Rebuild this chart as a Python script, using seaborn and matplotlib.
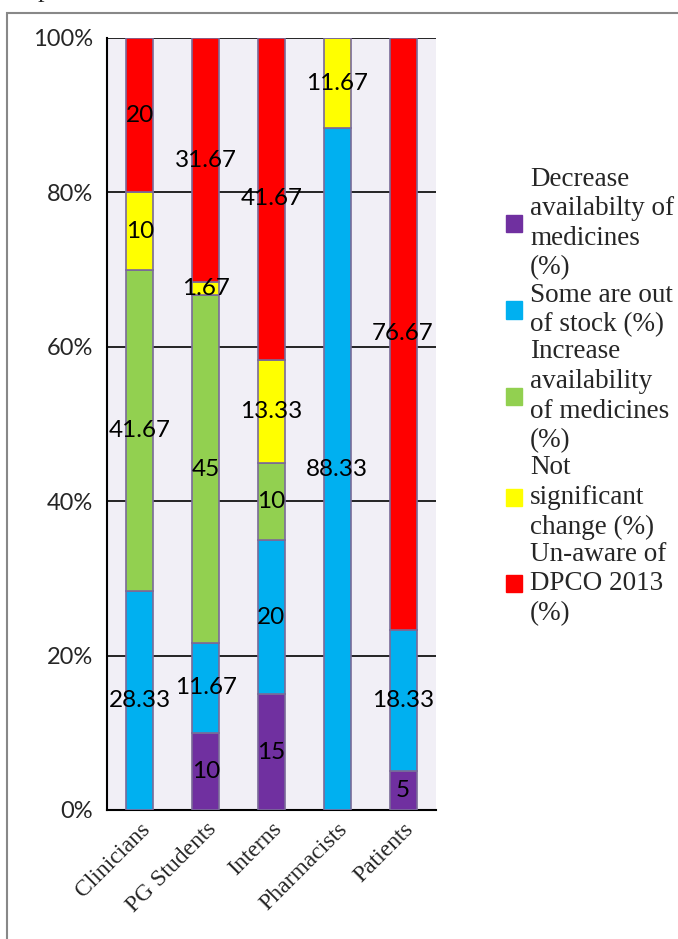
import pandas as pd
import matplotlib
matplotlib.use("Agg")
import matplotlib.pyplot as plt
import seaborn as sns
from matplotlib.patches import Patch, Rectangle
from matplotlib.ticker import PercentFormatter

# groups on the x axis
groups = ["Clinicians", "PG Students", "Interns", "Pharmacists", "Patients"]

# stacked series, bottom to top (%)
decrease = [0, 10, 15, 0, 5]
out_of_stock = [28.33, 11.67, 20, 88.33, 18.33]
increase = [41.67, 45, 10, 0, 0]
not_significant = [10, 1.67, 13.33, 11.67, 0]
unaware = [20, 31.67, 41.67, 0, 76.67]

series_names = [
    "Decrease\navailabilty of\nmedicines\n(%)",
    "Some are out\nof stock (%)",
    "Increase\navailability\nof medicines\n(%)",
    "Not\nsignificant\nchange (%)",
    "Un-aware of\nDPCO 2013\n(%)",
]
series_values = [decrease, out_of_stock, increase, not_significant, unaware]
colors = ["#7030A0", "#00B0F0", "#92D050", "#FFFF00", "#FF0000"]

sns.set_style("white")
plt.rcParams["font.family"] = ["Lato", "DejaVu Sans"]

fig = plt.figure(figsize=(6.78, 9.39), dpi=100)
ax = fig.add_axes([107 / 678, 1 - 810 / 939, (436 - 107) / 678, (810 - 38) / 939])
ax.set_facecolor("#F1EFF6")

# stacking with bottom offsets
bottom = [0] * len(groups)
for name, vals, col in zip(series_names, series_values, colors):
    df = pd.DataFrame({"group": groups, "value": vals})
    sns.barplot(data=df, x="group", y="value", order=groups, color=col,
                bottom=bottom, width=0.41, edgecolor="#7A6A98", linewidth=1.2,
                saturation=1, ax=ax, zorder=3)
    for i, v in enumerate(vals):
        if v > 0:
            ax.text(i, bottom[i] + v / 2, f"{v:g}", ha="center", va="center",
                    fontsize=17.5, color="black", zorder=5)
    bottom = [b + v for b, v in zip(bottom, vals)]

ax.set_xlim(-0.5, 4.5)
ax.set_ylim(0, 100)
ax.set_yticks([0, 20, 40, 60, 80, 100])
ax.yaxis.set_major_formatter(PercentFormatter(decimals=0))
ax.grid(axis="y", color="black", linewidth=1.2, zorder=1)
ax.set_axisbelow(True)
ax.set_xlabel("")
ax.set_ylabel("")
for s in ["top", "right"]:
    ax.spines[s].set_visible(False)
for s in ["left", "bottom"]:
    ax.spines[s].set_color("black")
    ax.spines[s].set_linewidth(1.5)
ax.tick_params(axis="y", length=0, pad=10, labelsize=17)
ax.tick_params(axis="x", length=0, pad=6)
for lab in ax.get_xticklabels():
    lab.set_rotation(45)
    lab.set_ha("right")
    lab.set_rotation_mode("anchor")
    lab.set_fontfamily(["Liberation Serif"])
    lab.set_fontsize(17)

# legend on the right
handles = [Patch(facecolor=c, edgecolor=c) for c in colors]
leg = fig.legend(handles, series_names, loc="upper left",
                 bbox_to_anchor=(495 / 678, 1 - 156 / 939), frameon=False,
                 prop={"family": "Liberation Serif", "size": 19.5},
                 handlelength=0.6, handleheight=0.6, handletextpad=0.3,
                 labelspacing=0.08, borderaxespad=0)
for t in leg.get_texts():
    t.set_linespacing(1.24)

# outer frame and cut-off caption letter
fig.add_artist(Rectangle((7 / 678, -0.1), 1.2, 1 - 13 / 939 + 0.1,
                         transform=fig.transFigure, fill=False,
                         edgecolor="#888888", linewidth=1.5))
fig.text(38 / 678, 1 + 3 / 939, "p", family="Liberation Serif", fontsize=19,
         va="baseline", ha="left")

fig.savefig("out.png", dpi=100)
